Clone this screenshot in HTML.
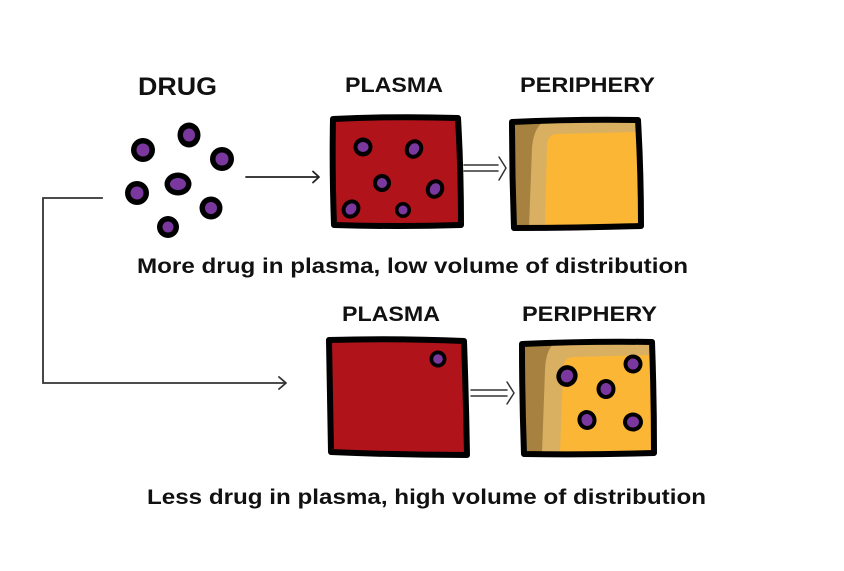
<!DOCTYPE html>
<html>
<head>
<meta charset="utf-8">
<style>
  html,body{margin:0;padding:0;background:#fff;}
  svg{display:block;}
  text{font-family:"Liberation Sans",Arial,sans-serif;font-weight:bold;fill:#111;}
</style>
</head>
<body>
<svg width="844" height="571" viewBox="0 0 844 571" xmlns="http://www.w3.org/2000/svg">
  <rect x="0" y="0" width="844" height="571" fill="#fff"/>

  <!-- Headers -->
  <text x="138" y="95" font-size="25" textLength="79" lengthAdjust="spacingAndGlyphs">DRUG</text>
  <text x="345" y="92" font-size="21" textLength="98" lengthAdjust="spacingAndGlyphs">PLASMA</text>
  <text x="520" y="92" font-size="21" textLength="135" lengthAdjust="spacingAndGlyphs">PERIPHERY</text>
  <text x="342" y="321" font-size="21" textLength="98" lengthAdjust="spacingAndGlyphs">PLASMA</text>
  <text x="522" y="321" font-size="21" textLength="135" lengthAdjust="spacingAndGlyphs">PERIPHERY</text>

  <!-- Captions -->
  <text x="137" y="273" font-size="21" textLength="551" lengthAdjust="spacingAndGlyphs">More drug in plasma, low volume of distribution</text>
  <text x="147" y="504" font-size="21" textLength="559" lengthAdjust="spacingAndGlyphs">Less drug in plasma, high volume of distribution</text>

  <!-- Drug dots -->
  <g>
    <ellipse cx="143" cy="150" rx="12" ry="12" fill="#000"/>
    <ellipse cx="143" cy="150" rx="6.5" ry="6.5" fill="#7a389f"/>
    <ellipse cx="189" cy="135" rx="11.5" ry="12.5" fill="#000"/>
    <ellipse cx="189" cy="135" rx="6" ry="6.5" fill="#7a389f"/>
    <ellipse cx="222" cy="159" rx="12" ry="12" fill="#000"/>
    <ellipse cx="222" cy="159" rx="6.5" ry="6.5" fill="#7a389f"/>
    <ellipse cx="178" cy="184" rx="13.5" ry="11.5" fill="#000"/>
    <ellipse cx="178" cy="184" rx="8" ry="6" fill="#7a389f"/>
    <ellipse cx="137" cy="193" rx="12" ry="12" fill="#000"/>
    <ellipse cx="137" cy="193" rx="6.5" ry="6.5" fill="#7a389f"/>
    <ellipse cx="211" cy="208" rx="11.5" ry="11.5" fill="#000"/>
    <ellipse cx="211" cy="208" rx="6" ry="6" fill="#7a389f"/>
    <ellipse cx="168" cy="227" rx="11" ry="11" fill="#000"/>
    <ellipse cx="168" cy="227" rx="5.5" ry="5.5" fill="#7a389f"/>
  </g>

  <!-- Top arrow -->
  <g stroke="#222" stroke-width="1.8" fill="none" stroke-linecap="round" stroke-linejoin="round">
    <line x1="246" y1="177" x2="318" y2="177"/>
    <path d="M313,171.5 L319,177 L313,182.5"/>
  </g>

  <!-- Left connector -->
  <g stroke="#333" stroke-width="1.8" fill="none" stroke-linecap="square" stroke-linejoin="miter">
    <path d="M102,198 H43 V383 H285"/>
    <path d="M279,377 L286,383 L279,389" stroke-linecap="round" stroke-linejoin="round"/>
  </g>

  <!-- Top plasma box -->
  <path d="M333,119 Q395,116 458,118 Q461,170 461,225 Q398,227 334,225 Q332,170 333,119 Z" fill="#b0141a" stroke="#000" stroke-width="6" stroke-linejoin="round"/>
  <g>
    <ellipse cx="363" cy="147" rx="9.5" ry="9.5" fill="#000"/>
    <ellipse cx="363" cy="147" rx="5.5" ry="5" fill="#7a389f"/>
    <ellipse cx="414" cy="149" rx="9" ry="10" fill="#000" transform="rotate(30 414 149)"/>
    <ellipse cx="414" cy="149" rx="5" ry="6" fill="#7a389f" transform="rotate(30 414 149)"/>
    <ellipse cx="382" cy="183" rx="9" ry="9" fill="#000"/>
    <ellipse cx="382" cy="183" rx="5" ry="5" fill="#7a389f"/>
    <ellipse cx="435" cy="189" rx="9" ry="10" fill="#000" transform="rotate(30 435 189)"/>
    <ellipse cx="435" cy="189" rx="5" ry="6" fill="#7a389f" transform="rotate(30 435 189)"/>
    <ellipse cx="351" cy="209" rx="9" ry="10" fill="#000" transform="rotate(40 351 209)"/>
    <ellipse cx="351" cy="209" rx="5" ry="6" fill="#7a389f" transform="rotate(40 351 209)"/>
    <ellipse cx="403" cy="210" rx="8" ry="8" fill="#000"/>
    <ellipse cx="403" cy="210" rx="4.5" ry="4.5" fill="#7a389f"/>
  </g>

  <!-- Top double arrow -->
  <g stroke="#333" stroke-width="1.5" fill="none" stroke-linecap="round" stroke-linejoin="round">
    <line x1="464" y1="165" x2="498" y2="165"/>
    <line x1="464" y1="171" x2="498" y2="171"/>
    <path d="M499,157 L506,168 L499,180"/>
  </g>

  <!-- Top periphery box -->
  <g>
    <path d="M512,122 Q575,119 638,120 Q641,172 641,226 Q578,228 514,228 Q512,175 512,122 Z" fill="#fcb636"/>
    <path d="M512,122 L638,120 L638,132 L556,134 Q547,135 547,146 L545,226 L514,228 Z" fill="#d9b062"/>
    <path d="M512,122 L546,121 Q534,125 532,148 L529,227 L514,228 Z" fill="#a7813f"/>
    <path d="M512,122 Q575,119 638,120 Q641,172 641,226 Q578,228 514,228 Q512,175 512,122 Z" fill="none" stroke="#000" stroke-width="6" stroke-linejoin="round"/>
  </g>

  <!-- Bottom plasma box -->
  <path d="M329,340 Q396,338 464,341 Q466,398 467,455 Q399,455 331,452 Q330,396 329,340 Z" fill="#b0141a" stroke="#000" stroke-width="6" stroke-linejoin="round"/>
  <ellipse cx="438" cy="359" rx="8.5" ry="8.5" fill="#000"/>
  <ellipse cx="438" cy="359" rx="4.8" ry="4.8" fill="#7a389f"/>

  <!-- Bottom double arrow -->
  <g stroke="#333" stroke-width="1.5" fill="none" stroke-linecap="round" stroke-linejoin="round">
    <line x1="471" y1="390" x2="507" y2="390"/>
    <line x1="471" y1="396" x2="507" y2="396"/>
    <path d="M507,382 L514,393 L507,404"/>
  </g>

  <!-- Bottom periphery box -->
  <g>
    <path d="M522,344 Q587,341 652,342 Q654,398 654,453 Q589,455 524,454 Q522,399 522,344 Z" fill="#fcb636"/>
    <path d="M522,344 L652,342 L652,355 L572,357 Q563,358 563,370 L560,453 L524,454 Z" fill="#d9b062"/>
    <path d="M522,344 L556,343 Q546,347 545,370 L542,453 L524,454 Z" fill="#a7813f"/>
    <path d="M522,344 Q587,341 652,342 Q654,398 654,453 Q589,455 524,454 Q522,399 522,344 Z" fill="none" stroke="#000" stroke-width="6" stroke-linejoin="round"/>
    <ellipse cx="567" cy="376" rx="10.5" ry="11" fill="#000" transform="rotate(30 567 376)"/>
    <ellipse cx="567" cy="376" rx="6" ry="6.5" fill="#7a389f" transform="rotate(30 567 376)"/>
    <ellipse cx="633" cy="364" rx="9.5" ry="9.5" fill="#000"/>
    <ellipse cx="633" cy="364" rx="5.5" ry="5.5" fill="#7a389f"/>
    <ellipse cx="606" cy="389" rx="9.5" ry="10" fill="#000"/>
    <ellipse cx="606" cy="389" rx="5.5" ry="6" fill="#7a389f"/>
    <ellipse cx="587" cy="420" rx="9.5" ry="10" fill="#000" transform="rotate(-20 587 420)"/>
    <ellipse cx="587" cy="420" rx="5.5" ry="6" fill="#7a389f" transform="rotate(-20 587 420)"/>
    <ellipse cx="633" cy="422" rx="10" ry="9.5" fill="#000"/>
    <ellipse cx="633" cy="422" rx="6" ry="5.5" fill="#7a389f"/>
  </g>
</svg>
</body>
</html>
